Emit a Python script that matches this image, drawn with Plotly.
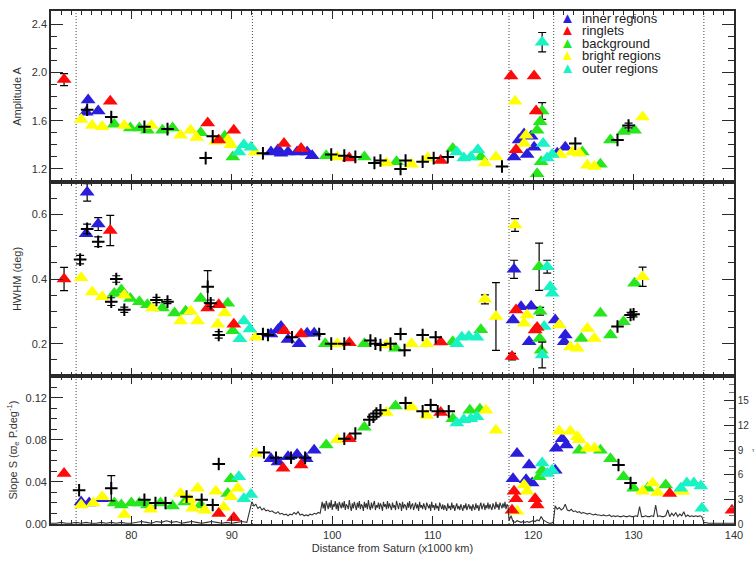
import numpy as np
import plotly.graph_objects as go

# ---------------- data ----------------
# Region boundaries (x1000 km) drawn as dotted lines
region_bounds = [74.5, 92.05, 117.6, 122.05, 137.0]

# ---- Amplitude A (top panel)
amp_inner_x = [75.5, 75.7, 76.7, 93.9, 94.6, 94.9, 95.6, 96.5, 97.5, 98.0, 118.1, 118.6, 119.1, 119.4, 119.8, 120.1, 122.4, 123.2]
amp_inner_y = [1.67, 1.77, 1.68, 1.34, 1.36, 1.33, 1.34, 1.34, 1.34, 1.31, 1.30, 1.44, 1.49, 1.32, 1.47, 1.38, 1.33, 1.38]
amp_inner_err = {}
amp_ring_x = [73.3, 77.9, 87.6, 88.7, 90.2, 95.2, 96.9, 101.7, 110.8, 117.8, 118.3, 120.1, 120.3]
amp_ring_y = [1.94, 1.76, 1.58, 1.44, 1.52, 1.41, 1.37, 1.29, 1.27, 1.97, 1.36, 1.97, 1.68]
amp_ring_err = {73.3: 0.05}
amp_bg_x = [78.3, 79.9, 80.8, 81.6, 83.1, 84.1, 86.9, 89.3, 90.1, 99.4, 103.2, 106.4, 112.0, 114.8, 120.4, 120.7, 120.9, 120.4, 120.8, 124.9, 126.7, 127.7, 129.0, 130.1]
amp_bg_y = [1.57, 1.54, 1.54, 1.52, 1.52, 1.54, 1.50, 1.47, 1.30, 1.31, 1.30, 1.26, 1.37, 1.30, 1.52, 1.59, 1.68, 1.16, 1.26, 1.34, 1.24, 1.44, 1.51, 1.52]
amp_bg_err = {120.9: 0.07}
amp_bright_x = [75.0, 76.1, 77.1, 79.3, 82.0, 84.9, 85.9, 86.5, 88.4, 89.6, 89.9, 92.3, 100.5, 105.4, 107.9, 109.5, 115.2, 116.3, 118.2, 119.3, 119.1, 122.7, 123.9, 124.6, 125.4, 126.1, 130.9]
amp_bright_y = [1.61, 1.56, 1.55, 1.56, 1.56, 1.48, 1.52, 1.46, 1.43, 1.44, 1.40, 1.34, 1.30, 1.25, 1.24, 1.29, 1.25, 1.30, 1.76, 1.48, 1.41, 1.32, 1.34, 1.33, 1.23, 1.22, 1.63]
amp_bright_err = {}
amp_outer_x = [90.7, 91.2, 91.9, 112.4, 113.1, 113.8, 114.5, 120.9, 121.0, 121.4, 121.9]
amp_outer_y = [1.34, 1.40, 1.38, 1.34, 1.29, 1.30, 1.36, 2.25, 1.41, 1.29, 1.32]
amp_outer_err = {120.9: 0.08}
amp_cross_x = [75.6, 78.0, 81.3, 83.6, 87.4, 88.1, 93.1, 99.9, 101.2, 102.3, 104.2, 104.8, 106.8, 107.3, 109.0, 110.1, 111.5, 116.9, 124.2, 128.4, 129.5]
amp_cross_y = [1.69, 1.63, 1.55, 1.53, 1.29, 1.47, 1.33, 1.32, 1.31, 1.30, 1.25, 1.27, 1.20, 1.27, 1.26, 1.29, 1.30, 1.22, 1.41, 1.44, 1.56]
amp_cross_err = {129.5: 0.02}

# ---- HWHM (middle panel)
hw_inner_x = [75.5, 75.6, 76.7, 93.9, 94.6, 94.9, 95.6, 96.7, 97.5, 98.2, 118.0, 118.1, 118.8, 119.6, 119.8, 122.2, 123.1, 123.2]
hw_inner_y = [0.54, 0.668, 0.57, 0.23, 0.243, 0.253, 0.213, 0.20, 0.232, 0.232, 0.273, 0.43, 0.314, 0.206, 0.316, 0.273, 0.206, 0.227]
hw_inner_err = {75.6: 0.027, 76.7: 0.02, 118.1: 0.028}
hw_ring_x = [73.3, 77.9, 87.6, 88.7, 90.2, 95.2, 96.9, 101.7, 110.8, 117.9, 118.3, 120.2, 120.4]
hw_ring_y = [0.40, 0.55, 0.31, 0.32, 0.26, 0.24, 0.23, 0.203, 0.205, 0.16, 0.304, 0.242, 0.25]
hw_ring_err = {73.3: 0.036, 77.9: 0.047, 117.9: 0.01}
hw_bg_x = [78.3, 79.0, 79.9, 80.8, 81.6, 83.1, 84.3, 85.4, 86.9, 89.6, 90.1, 99.3, 103.2, 106.3, 112.0, 114.8, 120.6, 120.7, 120.65, 120.8, 124.8, 126.7, 127.7, 129.0, 130.1]
hw_bg_y = [0.355, 0.366, 0.34, 0.33, 0.32, 0.31, 0.295, 0.30, 0.34, 0.325, 0.24, 0.20, 0.20, 0.186, 0.206, 0.243, 0.438, 0.30, 0.216, 0.18, 0.216, 0.294, 0.227, 0.268, 0.387]
hw_bg_err = {120.6: 0.073, 120.7: 0.012}
hw_bright_x = [75.0, 76.1, 77.1, 79.3, 82.1, 84.9, 85.9, 86.6, 88.6, 89.3, 92.4, 100.5, 105.4, 107.9, 109.4, 115.2, 116.3, 118.2, 119.1, 119.4, 122.6, 123.7, 124.4, 125.4, 126.1, 130.9]
hw_bright_y = [0.404, 0.36, 0.345, 0.35, 0.31, 0.27, 0.30, 0.27, 0.26, 0.295, 0.22, 0.20, 0.196, 0.20, 0.20, 0.337, 0.284, 0.567, 0.263, 0.289, 0.258, 0.19, 0.186, 0.247, 0.216, 0.407]
hw_bright_err = {115.2: 0.014, 116.3: 0.105, 118.2: 0.02, 130.9: 0.03}
hw_outer_x = [90.8, 91.2, 91.8, 112.4, 112.9, 113.6, 114.4, 121.1, 121.4, 121.7, 121.9, 120.9]
hw_outer_y = [0.215, 0.27, 0.245, 0.20, 0.22, 0.222, 0.22, 0.253, 0.438, 0.376, 0.356, 0.165]
hw_outer_err = {121.4: 0.02, 120.9: 0.04}
hw_cross_x = [74.9, 75.6, 76.7, 78.0, 78.5, 79.3, 82.5, 83.6, 87.6, 87.9, 88.7, 93.1, 93.6, 96.0, 98.7, 99.9, 101.2, 103.8, 104.3, 104.8, 105.8, 106.8, 107.2, 109.0, 110.3, 128.4, 129.7, 130.0]
hw_cross_y = [0.46, 0.555, 0.515, 0.33, 0.40, 0.305, 0.335, 0.33, 0.376, 0.325, 0.227, 0.23, 0.227, 0.22, 0.23, 0.20, 0.20, 0.21, 0.20, 0.196, 0.20, 0.23, 0.18, 0.227, 0.22, 0.253, 0.289, 0.291]
hw_cross_err = {74.9: 0.013, 75.6: 0.015, 76.7: 0.015, 78.0: 0.012, 78.5: 0.01, 79.3: 0.008,
                82.5: 0.008, 83.6: 0.006, 87.6: 0.05, 87.9: 0.01, 88.7: 0.01, 129.7: 0.008, 130.0: 0.008}

# ---- Slope S (bottom panel)
sl_inner_x = [75.0, 75.8, 77.0, 93.9, 94.6, 95.6, 96.5, 97.4, 98.2, 118.0, 118.4, 119.3, 119.6, 119.9, 122.2, 122.3, 122.9, 123.3]
sl_inner_y = [0.021, 0.020, 0.024, 0.062, 0.059, 0.064, 0.066, 0.062, 0.070, 0.043, 0.067, 0.042, 0.056, 0.039, 0.051, 0.072, 0.081, 0.075]
sl_ring_x = [73.3, 88.7, 90.2, 95.1, 96.9, 101.7, 110.8, 117.9, 118.1, 118.3, 120.2, 120.4, 133.6, 139.8]
sl_ring_y = [0.048, 0.010, 0.006, 0.053, 0.056, 0.081, 0.106, 0.013, 0.031, 0.024, 0.024, 0.018, 0.029, 0.013]
sl_bg_x = [78.3, 79.0, 80.0, 80.8, 81.6, 82.9, 84.1, 85.3, 86.9, 89.6, 89.9, 99.4, 103.2, 106.3, 112.0, 113.7, 114.7, 120.6, 120.9, 124.6, 126.7, 127.7, 129.0, 130.0, 131.4, 133.2]
sl_bg_y = [0.020, 0.018, 0.020, 0.020, 0.018, 0.020, 0.017, 0.021, 0.018, 0.029, 0.043, 0.075, 0.092, 0.112, 0.100, 0.108, 0.109, 0.045, 0.051, 0.070, 0.070, 0.062, 0.045, 0.034, 0.034, 0.037]
sl_bright_x = [75.0, 76.2, 77.1, 79.3, 81.9, 84.9, 85.8, 86.1, 86.6, 87.3, 88.4, 89.2, 89.9, 90.6, 92.4, 100.5, 105.4, 107.9, 109.4, 115.3, 116.3, 118.4, 119.1, 119.4, 122.6, 123.7, 124.4, 124.6, 125.4, 126.1, 130.9, 131.9, 132.4, 134.6, 134.9]
sl_bright_y = [0.018, 0.020, 0.026, 0.009, 0.014, 0.029, 0.023, 0.015, 0.034, 0.013, 0.031, 0.016, 0.026, 0.034, 0.067, 0.080, 0.106, 0.111, 0.103, 0.108, 0.089, 0.012, 0.037, 0.031, 0.088, 0.088, 0.083, 0.080, 0.072, 0.072, 0.031, 0.039, 0.030, 0.031, 0.031]
sl_outer_x = [90.7, 91.2, 91.9, 112.4, 113.1, 113.8, 114.4, 120.9, 121.4, 121.9, 134.7, 135.3, 136.0, 136.7, 136.8]
sl_outer_y = [0.045, 0.024, 0.028, 0.096, 0.099, 0.100, 0.102, 0.058, 0.048, 0.051, 0.034, 0.039, 0.039, 0.036, 0.015]
sl_cross_x = [74.8, 78.0, 81.3, 82.4, 83.4, 85.5, 87.0, 88.1, 88.7, 93.2, 94.4, 95.9, 97.3, 101.2, 102.3, 103.7, 104.1, 104.4, 104.8, 107.3, 109.0, 109.8, 110.5, 111.6, 128.5, 129.7]
sl_cross_y = [0.032, 0.034, 0.023, 0.020, 0.020, 0.026, 0.023, 0.018, 0.057, 0.068, 0.063, 0.063, 0.063, 0.081, 0.086, 0.099, 0.102, 0.105, 0.108, 0.115, 0.107, 0.113, 0.107, 0.107, 0.056, 0.039]
sl_cross_err = {78.0: 0.012}

# ---- optical depth profile (right axis of bottom panel), segments: start, step, values
tau_seg_a = (72.0, 0.5, [0.1, 0.1, 0.2, 0.1, 0.1, 0.2, 0.1, 0.2, 0.1, 0.1, 0.2, 0.1, 0.2, 0.1, 0.2, 0.1, 0.1, 0.2, 0.3, 0.2,
                         0.1, 0.3, 0.2, 0.4, 0.2, 0.3, 0.1, 0.2, 0.3, 0.2, 0.1, 0.2, 0.3, 0.2, 0.1, 0.2, 0.1, 0.2, 0.3, 0.2])
tau_seg_b = (92.0, 0.2, [2.7, 2.2, 2.4, 1.9, 2.1, 1.7, 1.9, 1.6, 1.7, 1.5, 1.6, 1.4, 1.3, 1.5, 1.2, 1.3, 1.1, 1.2, 1.0, 1.2,
                         1.1, 1.4, 1.2, 1.5, 1.1, 1.2, 1.0, 1.1, 1.0, 1.2, 1.1, 1.3, 1.2, 1.4, 1.3])
tau_seg_c = (99.0, 0.1, [2.7, 1.9, 2.5, 1.6, 2.8, 2.2, 1.8, 2.6, 2.0, 2.9,
                         1.7, 2.4, 2.1, 2.8, 1.8, 2.5, 1.6, 2.7, 2.3, 1.9,
                         2.6, 2.0, 2.8, 1.7, 2.4, 2.2, 1.8, 2.9, 2.1, 1.6,
                         2.5, 1.9, 2.7, 2.3, 1.7, 2.6, 2.0, 2.8, 1.8, 2.4,
                         2.2, 1.6, 2.7, 2.0, 2.5, 1.8, 2.9, 2.1, 1.7, 2.6,
                         1.9, 2.4, 2.8, 1.7, 2.3, 2.0, 2.6, 1.8, 2.5, 2.2,
                         1.6, 2.7, 2.1, 2.4, 1.8, 2.8, 1.9, 2.5, 2.2, 1.7,
                         2.6, 2.0, 2.3, 1.7, 2.8, 2.1, 1.8, 2.5, 2.4, 1.6,
                         2.7, 1.9, 2.4, 2.2, 1.7, 2.6, 2.0, 2.8, 1.8, 2.3,
                         2.5, 1.7, 2.2, 2.6, 1.9, 2.4, 1.6, 2.7, 2.0, 2.3,
                         1.8, 2.5, 2.1, 1.7, 2.6, 2.2, 1.9, 2.4, 1.6, 2.7,
                         2.0, 2.3, 1.7, 2.5, 1.9, 2.2, 1.6, 2.6, 2.1, 1.8,
                         2.4, 1.7, 2.3, 2.0, 1.6, 2.5, 1.9, 2.2, 1.7, 2.6,
                         1.9, 2.3, 1.6, 2.1, 2.5, 1.8, 2.2, 1.7, 2.4, 2.0,
                         1.6, 2.3, 1.9, 2.5, 1.7, 2.1, 2.4, 1.8, 2.2, 1.6,
                         2.4, 2.0, 1.7, 2.5, 1.9, 2.3, 1.6, 2.2, 2.6, 1.8,
                         2.1, 2.5, 1.7, 2.3, 1.9, 2.6, 1.8, 2.4, 2.0, 1.7,
                         2.5, 2.2, 1.8, 2.7, 2.0, 2.4, 1.7, 2.6, 2.1, 1.9,
                         2.5, 2.0, 2.7, 1.8, 2.4, 2.2])
tau_seg_d = (117.6, 0.2, [0.4, 1.0, 0.3, 0.2, 0.4, 0.3, 0.2, 0.3, 0.2, 0.3, 0.2, 0.3, 0.4, 0.3, 0.5, 0.4, 0.9, 0.5, 0.3, 0.2,
                          0.1, 0.1, 0.2])
tau_seg_e = (122.2, 0.2, [2.2, 1.8, 2.0, 1.7, 1.9, 2.4, 1.7, 1.6, 1.8, 1.5, 1.6, 1.4, 1.5, 1.3, 1.4, 1.3, 1.2, 1.3, 1.2, 1.1,
                          1.2, 1.1, 1.1, 1.0, 1.1, 1.0, 1.0, 1.1, 0.9, 1.0, 0.9, 1.0, 0.9, 0.9, 1.0, 0.9, 0.9, 1.0, 0.9, 0.9,
                          1.0, 0.9, 2.1, 0.9, 0.9, 1.0, 0.9, 0.9, 1.0, 0.9, 2.3, 0.9, 1.0, 0.9, 0.9, 1.0, 1.7, 0.9, 1.3, 1.0,
                          1.4, 0.9, 1.2, 1.0, 1.5, 0.9, 1.1, 0.9, 1.0, 0.9, 1.0, 0.9, 1.0, 0.9])
tau_seg_f = (137.0, 0.5, [0.2, 0.1, 0.1, 0.1, 0.1, 0.1, 0.1])

# ---------------- styling ----------------
COL_INNER = "#2a1edc"
COL_RING = "#ff0a0a"
COL_BG = "#28e61e"
COL_BRIGHT = "#ffff00"
COL_OUTER = "#19f2c4"
FONT = "Liberation Sans, Arial, Helvetica, sans-serif"
TXT = "#333333"
AX = "#2a2a2a"

fig = go.Figure()


def add_series(xs, ys, errs, color, xa, ya, cross=False):
    xs = np.asarray(xs, dtype=float)
    ys = np.asarray(ys, dtype=float)
    e = np.array([errs.get(v, 0.0) for v in xs.tolist()])
    m = e > 0
    if cross:
        marker = dict(symbol="cross-thin", size=9, color="black",
                      line=dict(color="black", width=2))
    else:
        marker = dict(symbol="triangle-up", size=13, color=color, line=dict(width=0))
    if m.any():
        fig.add_trace(go.Scatter(x=xs[m], y=ys[m], mode="markers", marker=marker,
                                 error_y=dict(type="data", array=e[m], color="black",
                                              thickness=1.2, width=4),
                                 xaxis=xa, yaxis=ya, showlegend=False, hoverinfo="skip"))
    if (~m).any():
        fig.add_trace(go.Scatter(x=xs[~m], y=ys[~m], mode="markers", marker=marker,
                                 xaxis=xa, yaxis=ya, showlegend=False, hoverinfo="skip"))


# optical depth line (bottom panel, right axis)
tau_x, tau_y = [], []
for start, step, vals in [tau_seg_a, tau_seg_b, tau_seg_c, tau_seg_d, tau_seg_e, tau_seg_f]:
    for i, v in enumerate(vals):
        tau_x.append(round(start + step * i, 3))
        tau_y.append(v)
fig.add_trace(go.Scatter(x=tau_x, y=tau_y, mode="lines", line=dict(color="#333333", width=1.1),
                         xaxis="x", yaxis="y4", showlegend=False, hoverinfo="skip"))

panels = [
    ("x3", "y3", [(amp_inner_x, amp_inner_y, amp_inner_err, COL_INNER),
                  (amp_bg_x, amp_bg_y, amp_bg_err, COL_BG),
                  (amp_bright_x, amp_bright_y, amp_bright_err, COL_BRIGHT),
                  (amp_outer_x, amp_outer_y, amp_outer_err, COL_OUTER),
                  (amp_ring_x, amp_ring_y, amp_ring_err, COL_RING)],
     (amp_cross_x, amp_cross_y, amp_cross_err)),
    ("x2", "y2", [(hw_inner_x, hw_inner_y, hw_inner_err, COL_INNER),
                  (hw_bg_x, hw_bg_y, hw_bg_err, COL_BG),
                  (hw_bright_x, hw_bright_y, hw_bright_err, COL_BRIGHT),
                  (hw_outer_x, hw_outer_y, hw_outer_err, COL_OUTER),
                  (hw_ring_x, hw_ring_y, hw_ring_err, COL_RING)],
     (hw_cross_x, hw_cross_y, hw_cross_err)),
    ("x", "y", [(sl_inner_x, sl_inner_y, {}, COL_INNER),
                (sl_bg_x, sl_bg_y, {}, COL_BG),
                (sl_bright_x, sl_bright_y, {}, COL_BRIGHT),
                (sl_outer_x, sl_outer_y, {}, COL_OUTER),
                (sl_ring_x, sl_ring_y, {}, COL_RING)],
     (sl_cross_x, sl_cross_y, sl_cross_err)),
]
for xa, ya, series, crosses in panels:
    for xs, ys, errs, col in series:
        add_series(xs, ys, errs, col, xa, ya)
    add_series(crosses[0], crosses[1], crosses[2], "black", xa, ya, cross=True)

# ---------------- axes ----------------
D_BOT = 148 / 513
D_MID = 342 / 513
xcommon = dict(range=[72, 140], tick0=80, dtick=10, ticks="inside", ticklen=8, tickwidth=1,
               tickcolor=AX, minor=dict(dtick=1, ticklen=4, tickcolor=AX, ticks="inside"),
               showline=True, linecolor=AX, linewidth=1.6, mirror="ticks", showgrid=False,
               zeroline=False, automargin=False, tickfont=dict(family=FONT, size=11, color=TXT))
ycommon = dict(ticks="inside", ticklen=12, tickwidth=1, tickcolor=AX, showline=True,
               linecolor=AX, linewidth=1.6, showgrid=False, zeroline=False, automargin=False,
               tickfont=dict(family=FONT, size=11, color=TXT))

fig.update_layout(
    width=756, height=561,
    margin=dict(l=51, r=22, t=11, b=37, autoexpand=False),
    paper_bgcolor="white", plot_bgcolor="white", showlegend=False,
    font=dict(family=FONT, color=TXT),
    xaxis=dict(**xcommon, anchor="y", domain=[0, 1],
               title=dict(text="Distance from Saturn (x1000 km)", standoff=4,
                          font=dict(family=FONT, size=11, color=TXT))),
    xaxis2=dict(**xcommon, anchor="y2", matches="x", showticklabels=False),
    xaxis3=dict(**xcommon, anchor="y3", matches="x", showticklabels=False),
    yaxis=dict(**ycommon, domain=[0, D_BOT], range=[0, 0.1406], tickvals=[0, 0.04, 0.08, 0.12],
               tickformat=".2f", mirror=True,
               minor=dict(dtick=0.01, tick0=0, ticklen=6, tickcolor=AX, ticks="inside"),
               title=dict(text="Slope S (ϖ<sub>e</sub> P.deg<sup>-1</sup>)", standoff=6,
                          font=dict(family=FONT, size=11, color=TXT))),
    yaxis2=dict(**ycommon, domain=[D_BOT, D_MID], range=[0.1, 0.7], tickvals=[0.2, 0.4, 0.6],
                tickformat=".1f", mirror="ticks",
                minor=dict(dtick=0.05, tick0=0.1, ticklen=6, tickcolor=AX, ticks="inside"),
                title=dict(text="HWHM (deg)", standoff=8, font=dict(family=FONT, size=11, color=TXT))),
    yaxis3=dict(**ycommon, domain=[D_MID, 1], range=[1.092, 2.508], tickvals=[1.2, 1.6, 2.0, 2.4],
                tickformat=".1f", mirror="ticks",
                minor=dict(dtick=0.1, tick0=1.2, ticklen=6, tickcolor=AX, ticks="inside"),
                title=dict(text="Amplitude A", standoff=8, font=dict(family=FONT, size=11, color=TXT))),
    yaxis4=dict(overlaying="y", side="right", anchor="x", range=[0, 18],
                tickvals=[0, 3, 6, 9, 12, 15], ticks="inside", ticklen=10, tickcolor=AX,
                minor=dict(dtick=1, ticklen=5, tickcolor="#777777", ticks="inside"),
                showline=True, linecolor=AX, linewidth=1.6, showgrid=False, zeroline=False,
                automargin=False, ticklabeloverflow="allow",
                tickfont=dict(family=FONT, size=10, color=TXT)),
)

# dotted region boundaries spanning all panels
for xb in region_bounds:
    fig.add_shape(type="line", xref="x", yref="paper", x0=xb, x1=xb, y0=0, y1=1,
                  line=dict(color="#444444", width=1, dash="1px,2px"), layer="below")

# legend drawn as one text block (triangle glyph + label per line)
legend_labels = ["inner regions", "ringlets", "background", "bright regions", "outer regions"]
legend_colors = [COL_INNER, COL_RING, COL_BG, COL_BRIGHT, COL_OUTER]
legend_text = "<br>".join(
    f"<span style='color:{col};font-size:15px'>▲</span><span style='font-size:13px'>  {lab}</span>"
    for lab, col in zip(legend_labels, legend_colors))
fig.add_annotation(xref="paper", yref="paper", x=(559 - 51) / 683, y=1 + 3 / 513,
                   text=legend_text, align="left", showarrow=False, xanchor="left", yanchor="top",
                   borderpad=0, font=dict(family=FONT, size=9.6, color="#222222"))

# small label of the right-hand axis
fig.add_annotation(xref="paper", yref="paper", x=(753 - 51) / 683, y=(524 - 455) / 513, text="τ",
                   showarrow=False, xanchor="center", font=dict(family=FONT, size=6, color="#555555"))

# remove the default page margin so the 756x561 figure fills the window exactly
fig.write_html("out.html", config={"displayModeBar": False},
               post_script="document.body.style.margin='0';document.body.style.overflow='hidden';")
